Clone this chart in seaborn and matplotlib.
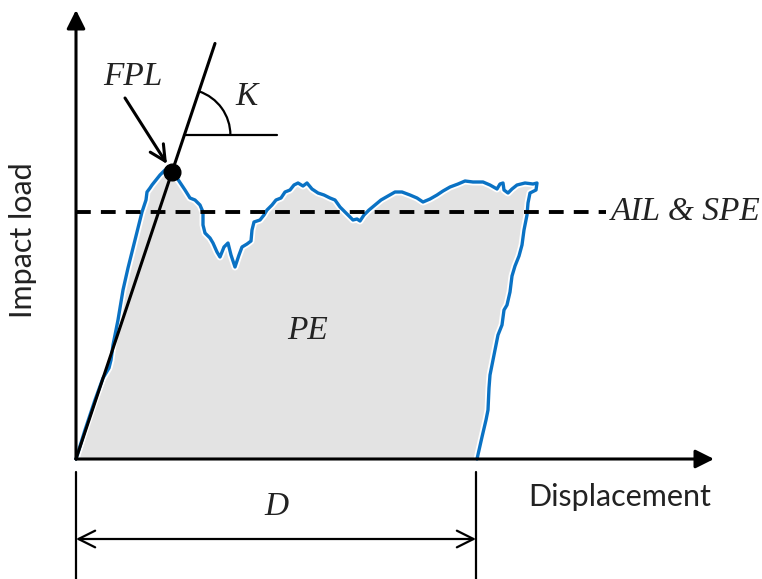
import numpy as np
import pandas as pd
import matplotlib.pyplot as plt
import seaborn as sns
from matplotlib.patches import Arc

# load-displacement trace (schematic units, origin at the axes corner)
disp = [0, 9, 19, 27, 33, 35, 37, 42, 47, 52, 57, 62, 66, 70, 71, 74, 76, 80, 84, 89,
        94, 98, 101, 105, 109, 114, 119, 124, 127, 127, 129, 134, 137, 141, 144, 148, 152, 155, 159, 163,
        166, 171, 175, 176, 178, 184, 188, 191, 196, 200, 205, 209, 214, 218, 222, 227, 231, 236, 242, 248,
        254, 259, 264, 269, 274, 277, 281, 284, 288, 293, 299, 305, 312, 319, 326, 334, 341, 347, 354, 361,
        367, 374, 382, 389, 397, 407, 414, 421, 424, 427, 428, 432, 436, 441, 449, 457, 461, 460, 454, 452,
        451, 448, 446, 443, 439, 436, 434, 431, 428, 426, 422, 420, 417, 414, 413, 412, 410, 406, 401]
load = [0, 29, 59, 81, 91, 99, 114, 139, 169, 191, 211, 231, 247, 259, 267, 271, 274, 279, 284, 289,
        291, 287, 281, 275, 269, 261, 259, 254, 247, 234, 226, 221, 216, 207, 202, 212, 216, 204, 192, 204,
        212, 215, 218, 229, 237, 239, 244, 249, 254, 259, 261, 267, 269, 274, 276, 273, 276, 270, 266, 264,
        261, 259, 252, 247, 242, 239, 240, 238, 244, 249, 254, 259, 263, 267, 267, 264, 261, 257, 260, 264,
        268, 272, 275, 278, 277, 277, 274, 270, 275, 276, 269, 266, 270, 274, 276, 275, 276, 269, 266, 256,
        244, 229, 214, 203, 193, 183, 167, 154, 149, 134, 124, 114, 99, 84, 71, 49, 39, 22, 0]

fpl = (96, 287)        # first peak load point
ail = 247              # average impact load level
d_total = 400          # total displacement D
k_end = 139            # end of the stiffness line (displacement)

sns.set_theme(style="white")
serif = dict(family="Liberation Serif", style="italic", fontsize=24)

fig = plt.figure(figsize=(7.62, 5.79), dpi=100)
ax = fig.add_axes([0, 0, 1, 1])
ax.set_xlim(-76, 686)
ax.set_ylim(-120, 459)
ax.axis("off")

df = pd.DataFrame({"Displacement": disp, "Impact load": load})
ax.fill(df["Displacement"], df["Impact load"], color="#e3e3e3", lw=0, zorder=1)
ax.plot(df["Displacement"], df["Impact load"], color="white", lw=5, zorder=2)
sns.lineplot(data=df, x="Displacement", y="Impact load", sort=False, estimator=None,
             color="#0a72c4", lw=2.4, ax=ax, zorder=3)

# axes with arrows
arrow = dict(arrowstyle="-|>", color="black", lw=2.2, mutation_scale=28, shrinkA=0, shrinkB=0)
ax.annotate("", xy=(0, 449), xytext=(0, 0), arrowprops=arrow, zorder=5)
ax.annotate("", xy=(638, 0), xytext=(0, 0), arrowprops=arrow, zorder=5)

# AIL dashed level
ax.plot([0, 530], [ail, ail], color="black", lw=2.8, dashes=(3.8, 2.6), zorder=4)
ax.text(535, ail, "AIL & SPE", va="center", ha="left", color="#222222", **serif)

# stiffness line and first peak
slope = fpl[1] / fpl[0]
ax.plot([0, k_end], [0, slope * k_end], color="black", lw=2.2, zorder=4)
ax.plot([fpl[0]], [fpl[1]], "o", color="black", ms=12, zorder=6)
ax.annotate("", xy=(fpl[0] - 5, fpl[1] + 8), xytext=(49, 361),
            arrowprops=dict(arrowstyle="->", color="black", lw=2.2, mutation_scale=28,
                            shrinkA=0, shrinkB=0), zorder=6)
ax.text(57, 382, "FPL", ha="center", va="center", color="#222222", **serif)

# angle K
kx = 324 / slope
ax.plot([kx, 201], [324, 324], color="black", lw=1.6)
ang = np.degrees(np.arctan(slope))
ax.add_patch(Arc((kx, 324), 92, 92, theta1=0, theta2=ang, color="black", lw=1.6))
ax.text(171, 362, "K", ha="center", va="center", color="#222222", **serif)

ax.text(232, 128, "PE", ha="center", va="center", color="#222222", **serif)

# D dimension
ax.plot([0, 0], [-13, -125], color="black", lw=1.6)
ax.plot([d_total, d_total], [-13, -125], color="black", lw=1.6)
ax.annotate("", xy=(0, -80), xytext=(d_total, -80),
            arrowprops=dict(arrowstyle="<->", color="black", lw=1.6, mutation_scale=30,
                            shrinkA=0, shrinkB=0))
ax.text(d_total / 2, -48, "D", ha="center", va="center", color="#222222", **serif)

# axis labels
ax.text(544, -38, "Displacement", ha="center", va="center", family="Lato", fontsize=22,
        color="#222222")
ax.text(-53, 219, "Impact load", ha="center", va="center", rotation=90, family="Lato",
        fontsize=22, color="#222222")

fig.savefig("out.png", dpi=100)
